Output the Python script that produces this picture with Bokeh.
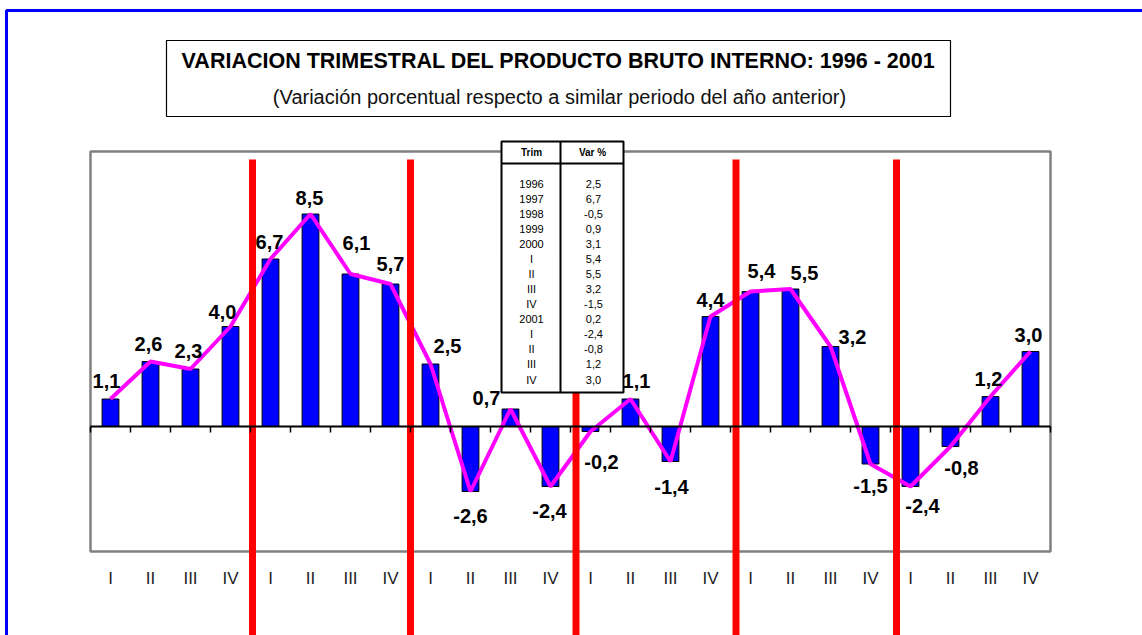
from bokeh.plotting import figure
from bokeh.models import Range1d, LinearAxis, FixedTicker, ColumnDataSource
from bokeh.core.properties import value
from bokeh.embed import file_html
from bokeh.resources import INLINE

# ---------------- data ----------------
quarters = ["I", "II", "III", "IV"] * 6
years = [1996, 1997, 1998, 1999, 2000, 2001]
values = [1.1, 2.6, 2.3, 4.0, 6.7, 8.5, 6.1, 5.7, 2.5, -2.6, 0.7, -2.4,
          -0.2, 1.1, -1.4, 4.4, 5.4, 5.5, 3.2, -1.5, -2.4, -0.8, 1.2, 3.0]
table_trim = ["1996", "1997", "1998", "1999", "2000", "I", "II", "III", "IV",
              "2001", "I", "II", "III", "IV"]
table_var = [2.5, 6.7, -0.5, 0.9, 3.1, 5.4, 5.5, 3.2, -1.5, 0.2, -2.4, -0.8, 1.2, 3.0]
title = "VARIACION TRIMESTRAL DEL PRODUCTO BRUTO INTERNO: 1996 - 2001"
subtitle = "(Variación porcentual respecto a similar periodo del año anterior)"

# ---------------- style / layout ----------------
label_dx_px = [-4, -2, -2, -8, -1, -1, 6, 0, 17, 0, -24, -1, 11, 6, 1, 0, 11, 14, 22, 0, 12, 11, -2, -2]
label_dy_px = [-18, -18, -18, -15, -17, -16, -31, -20, -18, 24, -11, 24, 30, -18, 25, -17, -21, -16, -10, 22, 19, 21, -18, -17]
break_dx_px = [2, 0, 5.5, 5.5, 6]
FONT = "Liberation Sans"

W, H = 1142, 635
X0PX, PXX = 90.0, 40.0   # page px of category 0, px per category
Y0PX, PXY = 426.0, 25.0  # page px of zero line, px per unit


def dx(px):
    return (px - X0PX) / PXX


def dy(py):
    return (Y0PX - py) / PXY


def fmt(v):
    return f"{v:.1f}".replace(".", ",")


n = len(values)
xs = [i + 0.5 for i in range(n)]

p = figure(width=W, height=H, output_backend="svg", toolbar_location=None,
           x_axis_type=None, y_axis_type=None,
           x_range=Range1d(dx(0), dx(W)), y_range=Range1d(dy(H), dy(0)),
           min_border=0, outline_line_color=None, background_fill_color="white",
           border_fill_color="white")
p.xgrid.visible = False
p.ygrid.visible = False

# outer blue frame (left and top)
p.line([dx(6), dx(6), dx(W + 5)], [dy(H + 5), dy(10), dy(10)], line_color="#0000FF", line_width=3)

# title box
p.quad(left=[dx(166)], right=[dx(950)], top=[dy(40)], bottom=[dy(116)],
       fill_color="white", line_color="black", line_width=1.2)
p.text(x=[dx(558)], y=[dy(60)], text=[title], text_font=value(FONT), text_font_style="bold",
       text_font_size="21.5px", text_align="center", text_baseline="middle", text_color="black")
p.text(x=[dx(559)], y=[dy(96)], text=[subtitle], text_font=value(FONT),
       text_font_size="20px", text_align="center", text_baseline="middle", text_color="#111111")

# plot box
p.quad(left=[0], right=[n], top=[11], bottom=[-5], fill_color=None,
       line_color="#808080", line_width=2.5)

# bars
src = ColumnDataSource(dict(x=xs, top=values))
p.vbar(x="x", top="top", bottom=0, width=0.42, source=src,
       fill_color="#0000FF", line_color="black", line_width=1)

# line
p.line(xs, values, line_color="#FF00FF", line_width=4)

# value labels
lab = ColumnDataSource(dict(
    x=[xs[i] + label_dx_px[i] / PXX for i in range(n)],
    y=[values[i] - label_dy_px[i] / PXY for i in range(n)],
    t=[fmt(v) for v in values]))
p.text(x="x", y="y", text="t", source=lab, text_font=value(FONT), text_font_style="bold",
       text_font_size="20px", text_align="center", text_baseline="middle", text_color="black")

# year separators
breaks = [4 * (k + 1) + break_dx_px[k] / PXX for k in range(len(break_dx_px))]
p.segment(x0=breaks, y0=[dy(159)] * len(breaks), x1=breaks, y1=[dy(700)] * len(breaks),
          line_color="#FF0000", line_width=7)

# table
t_left, t_right, t_top, t_bot, t_mid, t_head = 501, 623, 141, 392, 560, 163
p.quad(left=[dx(t_left)], right=[dx(t_right)], top=[dy(t_top)], bottom=[dy(t_bot)],
       fill_color="white", line_color="black", line_width=2)
p.segment(x0=[dx(t_left)], y0=[dy(t_head)], x1=[dx(t_right)], y1=[dy(t_head)],
          line_color="black", line_width=2)
p.segment(x0=[dx(t_mid)], y0=[dy(t_top)], x1=[dx(t_mid)], y1=[dy(t_bot)],
          line_color="black", line_width=2)
p.text(x=[dx(531), dx(592)], y=[dy(152), dy(152)], text=["Trim", "Var %"], text_font=value(FONT),
       text_font_style="bold", text_font_size="10px", text_align="center",
       text_baseline="middle", text_color="black")
rows_y = [dy(183 + 15.08 * k) for k in range(len(table_trim))]
p.text(x=[dx(531)] * len(table_trim), y=rows_y, text=table_trim, text_font=value(FONT),
       text_font_size="11px", text_align="center", text_baseline="middle", text_color="black")
p.text(x=[dx(593)] * len(table_var), y=rows_y, text=[fmt(v) for v in table_var],
       text_font=value(FONT), text_font_size="11px", text_align="center",
       text_baseline="middle", text_color="black")

# zero-line axis with ticks at category boundaries
zero_axis = LinearAxis(fixed_location=0, ticker=FixedTicker(ticks=list(range(n + 1))),
                       bounds=(0, n), axis_line_color="black", axis_line_width=2,
                       major_tick_line_color="black", major_tick_line_width=1.5,
                       major_tick_out=6, major_tick_in=0, minor_tick_line_color=None,
                       major_label_text_color=None)
p.add_layout(zero_axis, "below")

# category label axis along bottom of plot box
cat_axis = LinearAxis(fixed_location=-5, ticker=FixedTicker(ticks=xs),
                      major_label_overrides={x: q for x, q in zip(xs, quarters)},
                      axis_line_color=None, major_tick_line_color=None,
                      minor_tick_line_color=None, major_tick_out=0, major_tick_in=0,
                      major_label_standoff=17, major_label_text_font=FONT,
                      major_label_text_font_size="17px", major_label_text_color="#222222")
p.add_layout(cat_axis, "below")

open("out.html", "w").write(file_html(p, INLINE))
